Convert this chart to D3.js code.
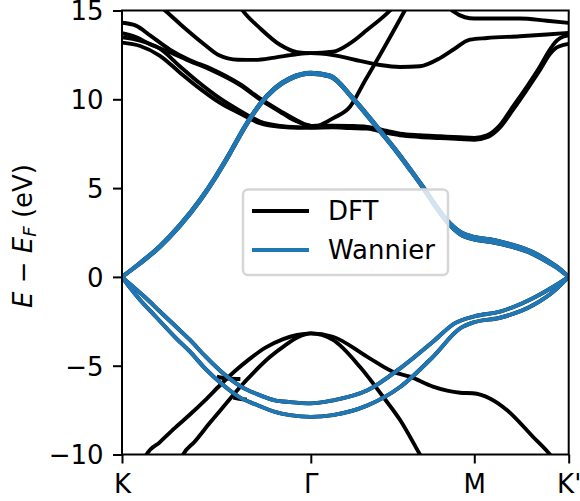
<!DOCTYPE html>
<html><head><meta charset="utf-8">
<script src="https://cdn.jsdelivr.net/npm/d3@7"></script>
<style>body{margin:0;background:#fff} svg{display:block} text{font-family:"DejaVu Sans",sans-serif}</style>
</head><body><svg id="c" width="580" height="501"></svg>
<script>
// High-symmetry path (k in units of 2π/a): K -> Γ -> M -> K'
const kTicks = [0, 0.6667, 1.2440, 1.5774];
const kLabels = ["K", "Γ", "M", "K'"];
const yTicks = [-10, -5, 0, 5, 10, 15];
const legendLabels = ["DFT", "Wannier"];

// Wannier (π) bands, [k, E]
const piC1 = [[0,0],[0.064,0.8],[0.134,1.75],[0.205,2.95],[0.275,4.35],[0.328,5.6],[0.381,7.0],[0.434,8.5],[0.487,9.75],[0.540,10.65],[0.593,11.2],[0.667,11.5],[0.734,11.35],[0.812,10.15],[0.858,9.3],[0.911,8.27],[0.975,7.0],[1.017,6.1],[1.063,5.08],[1.105,4.1],[1.148,3.2],[1.194,2.55],[1.244,2.25],[1.299,2.12],[1.370,1.85],[1.451,1.4],[1.511,0.85],[1.547,0.45],[1.577,0]];
const piC2 = [[0,0],[0.064,0.75],[0.134,1.68],[0.205,2.87],[0.275,4.27],[0.328,5.52],[0.381,6.92],[0.434,8.42],[0.487,9.68],[0.540,10.58],[0.593,11.13],[0.667,11.43],[0.734,11.28],[0.812,10.08],[0.858,9.22],[0.911,8.19],[0.975,6.92],[1.017,6.02],[1.063,5.0],[1.105,4.0],[1.148,3.08],[1.194,2.4],[1.244,2.1],[1.299,1.98],[1.370,1.72],[1.451,1.28],[1.511,0.75],[1.547,0.38],[1.577,0]];
const piV1 = [[0,0],[0.028,-0.4],[0.046,-0.65],[0.092,-1.3],[0.134,-1.95],[0.194,-2.85],[0.240,-3.55],[0.293,-4.45],[0.357,-5.43],[0.417,-6.15],[0.477,-6.6],[0.540,-6.95],[0.593,-7.05],[0.667,-7.12],[0.745,-6.95],[0.865,-6.4],[0.982,-5.15],[1.098,-3.65],[1.176,-2.6],[1.244,-2.22],[1.335,-1.95],[1.451,-1.2],[1.529,-0.5],[1.577,0]];
const piV2 = [[0,0],[0.028,-0.6],[0.064,-1.3],[0.117,-2.2],[0.194,-3.5],[0.240,-4.21],[0.293,-5.15],[0.357,-6.09],[0.417,-6.8],[0.477,-7.21],[0.540,-7.6],[0.593,-7.78],[0.667,-7.88],[0.745,-7.78],[0.865,-7.25],[0.982,-6.2],[1.098,-4.5],[1.194,-2.9],[1.244,-2.55],[1.335,-2.3],[1.451,-1.6],[1.529,-0.75],[1.577,0]];

// DFT bands, [k, E]
const dftA = [[0.05,16.3],[0.155,14.96],[0.221,14.01],[0.292,13.07],[0.339,12.51],[0.410,12.23],[0.470,12.22],[0.540,12.35],[0.611,12.52],[0.667,12.6],[0.745,12.49],[0.840,12.16],[0.911,11.93],[0.982,11.82],[1.052,11.86],[1.123,12.32],[1.169,12.79],[1.229,13.36],[1.289,13.45],[1.405,13.55],[1.500,13.65],[1.577,13.74]];
const dftB = [[0.38,16.2],[0.428,14.96],[0.487,14.01],[0.558,13.07],[0.618,12.66],[0.667,12.6],[0.745,12.68],[0.805,13.15],[0.865,13.9],[0.936,14.84],[1.0,15.9]];
const dftC = [[1.10,16.2],[1.169,14.96],[1.211,14.62],[1.244,14.55],[1.289,14.55],[1.405,14.55],[1.500,14.42],[1.577,14.3]];
const dftD = [[0,13.19],[0.064,13.0],[0.134,12.45],[0.205,11.5],[0.275,10.6],[0.346,9.8],[0.417,9.2],[0.487,8.65],[0.558,8.45],[0.629,8.4],[0.667,8.42],[0.700,8.55],[0.745,8.93],[0.805,9.58],[0.858,11.05],[0.911,12.5],[0.964,14.0],[1.017,15.5],[1.05,16.3]];
const dftE = [[0,13.49],[0.064,13.3],[0.134,12.85],[0.205,11.85],[0.275,10.9],[0.346,10.05],[0.417,9.35],[0.487,8.75],[0.558,8.5],[0.629,8.42],[0.667,8.4],[0.745,8.42],[0.805,8.38],[0.865,8.35],[0.936,8.1],[0.982,7.97],[1.052,7.88],[1.123,7.82],[1.194,7.76],[1.244,7.72],[1.289,7.86],[1.335,8.42],[1.381,9.42],[1.430,10.55],[1.476,11.65],[1.511,12.55],[1.529,12.85],[1.547,13.0],[1.577,13.12]];
const dftF = [[0,13.72],[0.049,13.5],[0.099,13.1],[0.169,12.65],[0.240,12.15],[0.311,11.68],[0.417,10.8],[0.487,10.0],[0.558,9.3],[0.593,8.95],[0.629,8.68],[0.650,8.55],[0.667,8.5],[0.700,8.52],[0.745,8.52],[0.805,8.5],[0.865,8.45],[0.936,8.22],[0.982,8.07],[1.052,7.98],[1.123,7.92],[1.194,7.86],[1.244,7.83],[1.289,7.97],[1.335,8.55],[1.381,9.6],[1.430,10.72],[1.476,11.85],[1.511,12.8],[1.529,13.2],[1.547,13.45],[1.577,13.6]];
const dftG = [[0,14.31],[0.049,14.15],[0.099,13.6],[0.169,12.8],[0.240,12.2],[0.311,11.75],[0.417,10.85],[0.487,10.05],[0.558,9.35],[0.629,8.72],[0.650,8.57],[0.667,8.5]];
const sigma1 = [[0.070,-10.8],[0.087,-10],[0.134,-9.3],[0.187,-8.5],[0.240,-7.75],[0.293,-6.95],[0.346,-6.1],[0.399,-5.3],[0.452,-4.6],[0.505,-4.0],[0.569,-3.5],[0.618,-3.27],[0.667,-3.18],[0.745,-3.37],[0.865,-4.49],[0.957,-5.34],[1.017,-5.62],[1.098,-6.18],[1.194,-6.52],[1.239,-6.55],[1.299,-6.84],[1.359,-7.49],[1.451,-9.0],[1.511,-10],[1.54,-10.6]];
const sigma2 = [[0.195,-10.8],[0.216,-10],[0.258,-9.25],[0.311,-8.2],[0.364,-7.2],[0.417,-6.2],[0.470,-5.3],[0.523,-4.5],[0.576,-3.85],[0.621,-3.4],[0.667,-3.18],[0.745,-3.55],[0.840,-5.06],[0.922,-6.75],[0.982,-8.06],[1.052,-10],[1.07,-10.5]];
const bridge1 = [[0.335,-5.62],[0.375,-5.72],[0.418,-5.75]];
const bridge2 = [[0.393,-6.8],[0.420,-6.88],[0.441,-6.9]];

const wannierBands = [piC1, piC2, piV1, piV2];
const dftBands = [dftA, dftB, dftC, dftD, dftE, dftF, dftG, sigma1, sigma2, bridge1, bridge2, piC1, piC2, piV1, piV2];

const svg = d3.select("#c");
const L = 122, T = 10.5, R = 568.7, B = 454.5;
const FS = 26, LW = 3.9;
const x = d3.scaleLinear().domain([0, 1.5774]).range([L, R]);
const y = d3.scaleLinear().domain([-10, 15]).range([B, T]);

svg.append("defs").append("clipPath").attr("id", "clip")
  .append("rect").attr("x", L).attr("y", T).attr("width", R - L).attr("height", B - T);

const line = d3.line().x(d => x(d[0])).y(d => y(d[1])).curve(d3.curveMonotoneX);
const plot = svg.append("g").attr("clip-path", "url(#clip)");
plot.selectAll("path.dft").data(dftBands).join("path").attr("class", "dft")
  .attr("d", line).attr("fill", "none").attr("stroke", "#000").attr("stroke-width", LW)
  .attr("stroke-linejoin", "round");
plot.selectAll("path.wan").data(wannierBands).join("path").attr("class", "wan")
  .attr("d", line).attr("fill", "none").attr("stroke", "#1f77b4").attr("stroke-width", LW)
  .attr("stroke-linejoin", "round");

// Axes
const yAxis = d3.axisLeft(y).tickValues(yTicks).tickSize(9).tickPadding(9).tickSizeOuter(0);
const gy = svg.append("g").attr("transform", `translate(${L},0)`).call(yAxis);
const xAxis = d3.axisBottom(x).tickValues(kTicks).tickFormat((d, i) => kLabels[i]).tickSize(9).tickPadding(9).tickSizeOuter(0);
const gx = svg.append("g").attr("transform", `translate(0,${B})`).call(xAxis);
[gx, gy].forEach(g => {
  g.select(".domain").remove();
  g.attr("font-size", null).attr("font-family", null);
  g.selectAll(".tick line").attr("stroke", "#000").attr("stroke-width", 2);
  g.selectAll(".tick text").attr("fill", "#000").style("font-size", FS + "px");
});
gy.selectAll(".tick text").attr("x", -18.5).attr("dy", "0.36em");
gx.selectAll(".tick text").attr("dy", "0.8em");

svg.append("rect").attr("x", L).attr("y", T).attr("width", R - L).attr("height", B - T)
  .attr("fill", "none").attr("stroke", "#000").attr("stroke-width", 2);

// Y label
const yl = svg.append("text").attr("transform", `translate(31.5,236) rotate(-90)`)
  .attr("text-anchor", "middle").style("font-size", FS + "px").attr("fill", "#000");
yl.append("tspan").attr("font-style", "italic").text("E");
yl.append("tspan").text(" − ");
yl.append("tspan").attr("font-style", "italic").text("E");
yl.append("tspan").attr("font-style", "italic").attr("dy", 4).style("font-size", (FS * 0.7) + "px").text("F");
yl.append("tspan").attr("dy", -4).text(" (eV)");

// Legend
const lg = svg.append("g");
lg.append("rect").attr("x", 243).attr("y", 189.5).attr("width", 205).attr("height", 85.5)
  .attr("rx", 5).attr("fill", "#fff").attr("fill-opacity", 0.8)
  .attr("stroke", "#d6d6d6").attr("stroke-width", 2.5);
const legColors = ["#000", "#1f77b4"];
const legY = [211, 250];
legendLabels.forEach((lab, i) => {
  lg.append("line").attr("x1", 252).attr("x2", 309).attr("y1", legY[i]).attr("y2", legY[i])
    .attr("stroke", legColors[i]).attr("stroke-width", LW);
  lg.append("text").attr("x", 328).attr("y", legY[i]).attr("dy", "0.36em")
    .style("font-size", FS + "px").attr("fill", "#000").text(lab);
});
</script></body></html>
